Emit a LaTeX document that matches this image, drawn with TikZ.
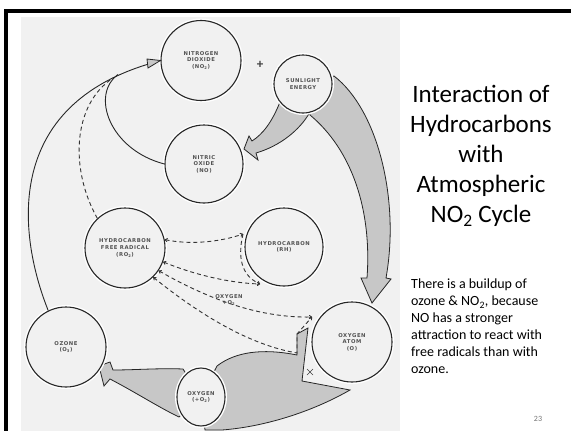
\documentclass[tikz,border=0pt]{standalone}
\usepackage{fontspec}
\setmainfont{Carlito}
\newfontfamily\labfont[LetterSpace=10]{DejaVu Sans Bold}
\usetikzlibrary{arrows.meta,shapes.geometric}
\pgfdeclarelayer{bg}
\pgfsetlayers{bg,main}
\definecolor{paper}{gray}{0.945}
\definecolor{stip}{gray}{0.78}
\begin{document}
\begin{tikzpicture}[x=1pt,y=-1pt,
  circ/.style={circle, draw=black!85, line width=1.1pt, fill=paper, inner sep=0pt,
    minimum size=#1, preaction={draw=white,line width=4pt}},
  lab/.style={font=\fontsize{5.3}{6.6}\selectfont\labfont, text=black!68, align=center},
  grayarrow/.style={fill=stip, draw=black!85, line width=0.8pt, line join=miter},
  thin/.style={draw=black!85, line width=0.9pt},
  dsh/.style={draw=black!80, line width=0.9pt, dash pattern=on 4pt off 3pt},
  tip/.style={-{To[length=3pt,width=4pt]}},
  bothtip/.style={{To[length=3pt,width=4pt]}-{To[length=3pt,width=4pt]}}
]
\useasboundingbox (0,0) rectangle (571,431);
% slide frame
\fill[black] (4,9) rectangle (571,12.5);
\fill[black] (4,9) rectangle (7.5,431);

% circles
\node[circ=80pt, lab] (NO2) at (201,60.5) {NITROGEN\\DIOXIDE\\(NO\textsubscript{2})};
\node[circ=58pt, lab] (SUN) at (303,84) {SUNLIGHT\\ENERGY};
\node[circ=78pt, lab] (NO) at (204,164) {NITRIC\\OXIDE\\(NO)};
\node[circ=78pt, lab] (RH) at (284,247) {HYDROCARBON\\(RH)};
\node[circ=80pt, lab] (RO2) at (125,248) {HYDROCARBON\\FREE RADICAL\\(RO\textsubscript{2})};
\node[circ=80pt, lab] (O3) at (66,347) {OZONE\\(O\textsubscript{3})};
\node[circ=80pt, lab] (OA) at (352,342) {OXYGEN\\ATOM\\(O)};
\node[ellipse, draw=black!85, line width=1.1pt, fill=paper, inner sep=0pt,
  minimum width=48pt, minimum height=58pt, preaction={draw=white,line width=4pt}, lab]
  (OO2) at (201,397) {OXYGEN\\(+O\textsubscript{2})};

\begin{pgfonlayer}{bg}
\fill[paper] (21,17) rectangle (400,431);
% sunlight -> NO
\path[grayarrow] (280,102) .. controls (272,122) and (263,134) .. (252,141)
  -- (249,136) -- (244,149) -- (258,160) -- (256,153)
  .. controls (280,146) and (300,130) .. (310,112) -- (SUN.center) -- cycle;
% sunlight -> oxygen atom
\path[grayarrow] (334,76) .. controls (378,110) and (400,200) .. (386,278)
  -- (391,279) -- (372,303) -- (361,278) -- (367,278)
  .. controls (372,210) and (352,150) .. (310,115) -- (SUN.center) -- cycle;
% oxygen atom + O2 big forked arrow
\path[grayarrow] (217,366) .. controls (235,352) and (262,348) .. (297,355)
  -- (297,334) -- (308,328) -- (302,381) -- (350,390)
  .. controls (310,413) and (262,427) .. (222,430) -- (205,430) -- (OO2.center) -- cycle;
% O2 -> ozone
\path[grayarrow] (183,369) .. controls (160,368) and (135,370) .. (113,370)
  -- (110,362) -- (99,366) -- (104,386) -- (110,379)
  .. controls (135,392) and (160,408) .. (179,417) -- (OO2.center) -- cycle;
\end{pgfonlayer}

% ozone -> NO2 big arc
\coordinate (arcend) at (147,64.5);
\draw[thin] (O3.116) .. controls (20,240) and (0,110) .. (arcend);
\path[fill=stip, draw=black!85, line width=0.8pt] (arcend) ++(0,-5.5) -- (NO2.west) -- (148,68) -- cycle;
% NO -> NO2
\coordinate (merge) at (118,74.5);
\draw[thin] (NO.west) .. controls (110,150) and (90,95) .. (merge);
% RO2 -> NO2 dashed
\coordinate (dtop) at (113,78);
\draw[dsh] (RO2.133) .. controls (70,170) and (72,105) .. (dtop);

% dashed reactions
\coordinate (rhl) at (243,234);
\coordinate (rhb) at (260,284);
\coordinate (oal) at (312,317);
\coordinate (knee) at (297,353);
\coordinate (knee2) at (297,334);
\draw[dsh, bothtip] (RO2.12) .. controls (190,245) and (220,242) .. (rhl);
\draw[dsh, tip] (rhl) .. controls (238,255) and (240,275) .. (rhb);
\draw[dsh, bothtip] (RO2.-20) .. controls (195,275) and (230,283) .. (rhb);
\draw[dsh, bothtip] (RO2.-34) .. controls (210,300) and (260,318) .. (oal);
\draw[dsh, bothtip] (RO2.-46) .. controls (200,315) and (250,345) .. (knee) -- (knee2) -- (oal);

\node[lab] (oxlab) at (229,300) {OXYGEN\\+O\textsubscript{2}};
\node[font=\fontsize{13}{13}\selectfont\bfseries, text=black!75] (plus) at (260,65) {+};
% small cross mark
\draw[black!75, line width=0.6pt] (307,369) -- (313,375) (313,369) -- (307,375);

% right-hand text
\node[align=center, font=\fontsize{25}{30}\selectfont] (title) at (481,156)
  {Interaction of\\Hydrocarbons\\with\\Atmospheric\\NO\textsubscript{2} Cycle};
\node[anchor=north west, align=left, inner sep=0pt, font=\fontsize{14}{17}\selectfont] (body) at (411,279)
  {There is a buildup of\\ozone \& NO\textsubscript{2}, because\\NO has a stronger\\attraction to react with\\free radicals than with\\ozone.};
\node[font=\fontsize{8}{8}\selectfont, text=black!55] (pg) at (538,419) {23};
\end{tikzpicture}
\end{document}
